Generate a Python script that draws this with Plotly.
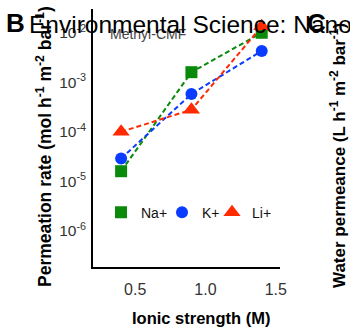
import plotly.graph_objects as go

ionic = [0.4, 0.9, 1.4]
na_vals = [1.6e-5, 1.6e-3, 1.0e-2]
k_vals = [2.9e-5, 5.8e-4, 4.3e-3]
li_vals = [1.0e-4, 2.8e-4, 1.35e-2]
series = [("Na+", na_vals, "#0a8a0a", "square", 12, "legend"),
          ("K+", k_vals, "#0a3cff", "circle", 12, "legend2"),
          ("Li+", li_vals, "#ff2a00", "triangle-up", 15, "legend3")]
ytick_vals = [1e-6, 1e-5, 1e-4, 1e-3, 1e-2]
ytick_text = ["10<sup>-6</sup>", "10<sup>-5</sup>", "10<sup>-4</sup>", "10<sup>-3</sup>", "10<sup>-2</sup>"]
xtick_vals = [0.5, 1.0, 1.5]
xtick_text = ["0.5", "1.0", "1.5"]

FONT = "Arial, Liberation Sans, sans-serif"
fig = go.Figure()
for name, vals, col, sym, sz, lg in series:
    fig.add_trace(go.Scatter(x=ionic, y=vals, mode="lines+markers", showlegend=False,
                             line=dict(color=col, width=2, dash="5px,3px"),
                             marker=dict(color=col, symbol=sym, size=sz)))
for name, vals, col, sym, sz, lg in series:
    fig.add_trace(go.Scatter(x=[None], y=[None], mode="markers", name=name, legend=lg,
                             marker=dict(color=col, symbol=sym, size=sz)))

L, R, T, B = 93, 70, 9, 60
W, H = 350, 327
pw, ph = W - L - R, H - T - B

def px(x):
    return (x - L) / pw

def py(y):
    return (H - B - y) / ph

leg_common = dict(orientation="v", yanchor="middle", xanchor="left", bgcolor="rgba(0,0,0,0)",
                  font=dict(family=FONT, size=14, color="#111"), borderwidth=0)
fig.update_layout(
    width=W, height=H, margin=dict(l=L, r=R, t=T, b=B, autoexpand=False),
    plot_bgcolor="white", paper_bgcolor="white",
    legend=dict(x=px(101), y=py(212.7), **leg_common),
    legend2=dict(x=px(162), y=py(212.7), **leg_common),
    legend3=dict(x=px(212), y=py(212.7), **leg_common),
    xaxis=dict(range=[0.2, 1.53], tickvals=xtick_vals, ticktext=xtick_text, showgrid=False,
               zeroline=False, showline=True, linecolor="black", linewidth=1.5, ticks="",
               ticklabelstandoff=7, tickfont=dict(family=FONT, size=16, color="#333")),
    yaxis=dict(type="log", range=[-6.73, -1.52], tickvals=ytick_vals, ticktext=ytick_text,
               showgrid=False, zeroline=False, showline=True, linecolor="black", linewidth=1.5,
               ticks="", ticklabelstandoff=2, tickfont=dict(family=FONT, size=15.5, color="#333")),
)

ann = [
    dict(text="Methyl-CMF", x=px(108), y=py(34), xanchor="left", yanchor="middle",
         font=dict(family=FONT, size=14, color="#444")),
    dict(text="Environmental Science: Nano", x=px(27), y=py(24), xanchor="left", yanchor="middle",
         font=dict(family=FONT, size=24.5, color="black")),
    dict(text="<b>B</b>", x=px(4), y=py(23), xanchor="left", yanchor="middle",
         font=dict(family=FONT, size=26, color="black")),
    dict(text="<b>C</b>", x=px(305), y=py(23), xanchor="left", yanchor="middle",
         font=dict(family=FONT, size=26, color="black")),
    dict(text="<b>Permeation rate (mol h<sup>-1</sup> m<sup>-2</sup> bar<sup>-1</sup>)</b>",
         x=px(44), y=py(147), xanchor="center", yanchor="middle", textangle=-90,
         font=dict(family=FONT, size=17.5, color="black")),
    dict(text="<b>Water permeance (L h<sup>-1</sup> m<sup>-2</sup> bar<sup>-1</sup>)</b>",
         x=px(338), y=py(156), xanchor="center", yanchor="middle", textangle=-90,
         font=dict(family=FONT, size=17, color="black")),
    dict(text="<b>Ionic strength (M)</b>", x=px(201), y=py(318), xanchor="center", yanchor="middle",
         font=dict(family=FONT, size=16.5, color="black")),
]
for a in ann:
    a.update(xref="paper", yref="paper", showarrow=False)
fig.update_layout(annotations=ann)
fig.write_html("out.html", config={"displayModeBar": False},
               post_script="document.body.style.margin='0';document.body.style.overflow='hidden';")
